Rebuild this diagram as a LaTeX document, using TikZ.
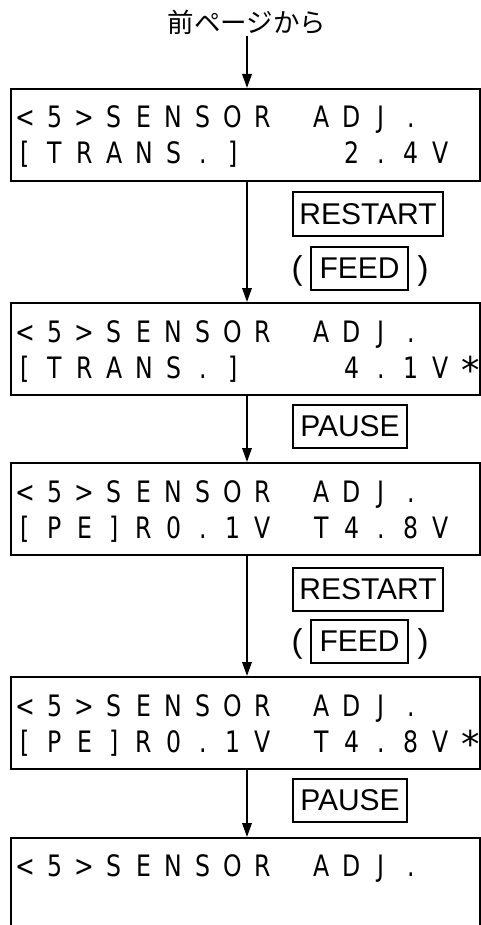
\documentclass[tikz,border=0pt]{standalone}
\usepackage{fontspec}
\usepackage{graphicx}
\setmainfont{Liberation Sans}
\newfontfamily\lcdfont{DejaVu Sans}
\newfontfamily\jpfont{Noto Sans CJK JP}
\usetikzlibrary{arrows.meta,calc}
\newlength\cellw
\setlength\cellw{29.67pt}
\newcommand\C[1]{\makebox[\cellw][c]{\scalebox{0.8}[1]{#1}}}
\newcommand\Star{\makebox[\cellw][c]{\raisebox{-5pt}{\scalebox{1.25}{*}}}}
\begin{document}
\begin{tikzpicture}[x=1pt,y=-1pt,
  lcdbox/.style={draw, line width=2.4pt, minimum width=469pt, minimum height=92pt, inner sep=0pt, anchor=north west},
  lcdrow/.style={inner sep=0pt, anchor=base west, font=\lcdfont\fontsize{29.5}{29.5}\selectfont},
  keybox/.style={draw, line width=2pt, inner sep=0pt, minimum height=43pt, font=\fontsize{30}{30}\selectfont, anchor=west},
  paren/.style={inner sep=0pt, font=\fontsize{33}{33}\selectfont},
  jp/.style={inner sep=2pt, font=\jpfont\fontsize{26.5}{26.5}\selectfont},
  flow/.style={line width=1.9pt, -{Triangle[length=14pt,width=9.5pt]}}]
\useasboundingbox (0,0) rectangle (481,925);
\fill[white] (0,0) rectangle (481,925);
\coordinate (ax) at (247,0);
\node[jp] (src) at (247,22) {前ページから};
% boxes
\node[lcdbox] (b1) at (10,88) {};
\node[lcdbox] (b2) at (10,302) {};
\node[lcdbox] (b3) at (10,462) {};
\node[lcdbox] (b4) at (10,676) {};
\node[lcdbox, minimum height=140pt] (b5) at (10,837) {};
% rows
\node[lcdrow] (b1r1) at (10.2,128) {\C<\C5\C>\C S\C E\C N\C S\C O\C R\C{}\C A\C D\C J\C.};
\node[lcdrow] (b1r2) at (10.2,164) {\C[\C T\C R\C A\C N\C S\C.\C]\C{}\C{}\C{}\C2\C.\C4\C V};
\node[lcdrow] (b2r1) at (10.2,342) {\C<\C5\C>\C S\C E\C N\C S\C O\C R\C{}\C A\C D\C J\C.};
\node[lcdrow] (b2r2) at (10.2,378) {\C[\C T\C R\C A\C N\C S\C.\C]\C{}\C{}\C{}\C4\C.\C1\C V\Star};
\node[lcdrow] (b3r1) at (10.2,502) {\C<\C5\C>\C S\C E\C N\C S\C O\C R\C{}\C A\C D\C J\C.};
\node[lcdrow] (b3r2) at (10.2,538) {\C[\C P\C E\C]\C R\C0\C.\C1\C V\C{}\C T\C4\C.\C8\C V};
\node[lcdrow] (b4r1) at (10.2,716) {\C<\C5\C>\C S\C E\C N\C S\C O\C R\C{}\C A\C D\C J\C.};
\node[lcdrow] (b4r2) at (10.2,752) {\C[\C P\C E\C]\C R\C0\C.\C1\C V\C{}\C T\C4\C.\C8\C V\Star};
\node[lcdrow] (b5r1) at (10.2,876) {\C<\C5\C>\C S\C E\C N\C S\C O\C R\C{}\C A\C D\C J\C.};
% keys
\node[keybox, minimum width=150pt] (rs1) at (292,214) {RESTART};
\node[paren] (pl1) at (297,271) {(};
\node[keybox, minimum width=97pt] (fd1) at (310,268.5) {FEED};
\node[paren] (pr1) at (423,271) {)};
\node[keybox, minimum width=114pt] (pa1) at (292,426) {PAUSE};
\node[keybox, minimum width=150pt] (rs2) at (292,589) {RESTART};
\node[paren] (pl2) at (297,644) {(};
\node[keybox, minimum width=97pt] (fd2) at (310,641) {FEED};
\node[paren] (pr2) at (423,644) {)};
\node[keybox, minimum width=114pt] (pa2) at (292,800) {PAUSE};
% arrows
\draw[flow] (src.south -| ax) -- (b1.north -| ax);
\draw[flow] (b1.south -| ax) -- (b2.north -| ax);
\draw[flow] (b2.south -| ax) -- (b3.north -| ax);
\draw[flow] (b3.south -| ax) -- (b4.north -| ax);
\draw[flow] (b4.south -| ax) -- (b5.north -| ax);
\end{tikzpicture}
\end{document}
